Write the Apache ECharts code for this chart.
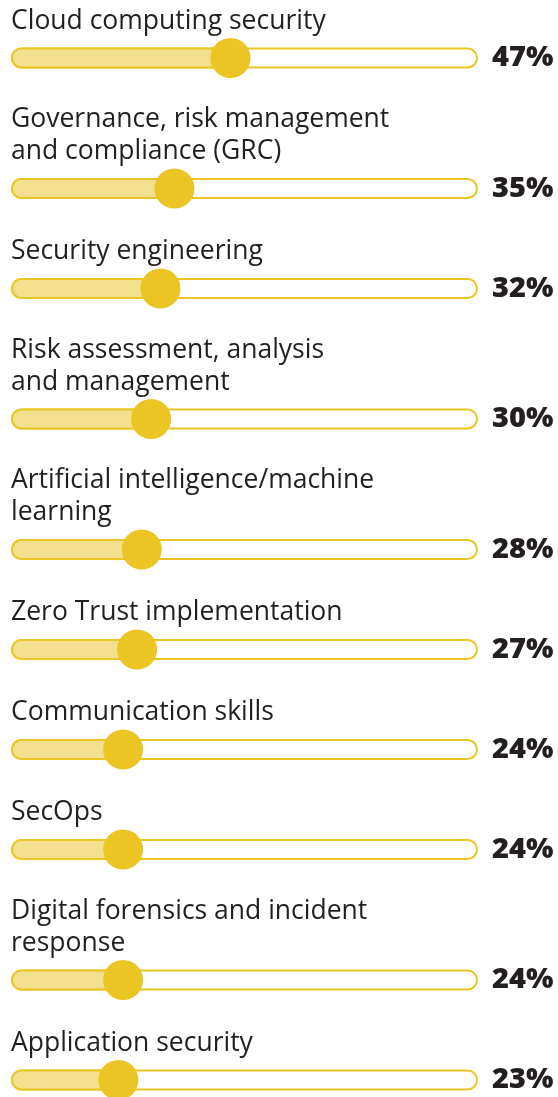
<!DOCTYPE html>
<html>
<head>
<meta charset="utf-8">
<script src="https://cdn.jsdelivr.net/npm/echarts@6/dist/echarts.min.js"></script>
<style>
  html, body { margin: 0; padding: 0; background: #fff; }
  #main { width: 558px; height: 1097px; }
</style>
</head>
<body>
<div id="main"></div>
<script>
// skill labels, line breaks as printed
const skills = [
  'Cloud computing security',
  'Governance, risk management\nand compliance (GRC)',
  'Security engineering',
  'Risk assessment, analysis\nand management',
  'Artificial intelligence/machine\nlearning',
  'Zero Trust implementation',
  'Communication skills',
  'SecOps',
  'Digital forensics and incident\nresponse',
  'Application security'
];
// share of respondents, %
const shares = [47, 35, 32, 30, 28, 27, 24, 24, 24, 23];
const trackMax = 100;

const gold = '#ebc523';
const paleGold = '#f3e08e';

const chart = echarts.init(document.getElementById('main'));

const grids = [], xAxes = [], yAxes = [], titles = [], series = [];
let center = 58;
skills.forEach((name, i) => {
  const lines = name.split('\n').length;
  if (i > 0) center += 100 + 30.5 * (lines - 1);

  titles.push({
    text: name,
    left: 11,
    top: center - 53 - (lines - 1) * 32,
    padding: 0,
    textStyle: {
      fontFamily: '"Open Sans", sans-serif',
      fontSize: 26.5,
      fontWeight: 'normal',
      lineHeight: 32,
      color: '#231f20'
    }
  });
  grids.push({ left: 11, width: 467, top: center - 11, height: 22 });
  xAxes.push({ type: 'value', gridIndex: i, min: 0, max: trackMax, show: false });
  yAxes.push({ type: 'category', gridIndex: i, data: [name], show: false });

  // empty track + percentage on its right
  series.push({
    type: 'bar',
    xAxisIndex: i, yAxisIndex: i,
    data: [trackMax],
    barWidth: 21,
    barGap: '-100%',
    silent: true,
    itemStyle: { color: '#fff', borderColor: gold, borderWidth: 2, borderRadius: 11 },
    label: {
      show: true,
      position: 'right',
      distance: 14,
      formatter: () => shares[i] + '%',
      fontFamily: '"Open Sans", sans-serif',
      fontWeight: 800,
      fontSize: 29,
      color: '#231f20'
    }
  });
  // filled part
  series.push({
    type: 'bar',
    xAxisIndex: i, yAxisIndex: i,
    data: [shares[i]],
    barWidth: 21,
    barGap: '-100%',
    silent: true,
    itemStyle: { color: paleGold, borderColor: gold, borderWidth: 2, borderRadius: 11 }
  });
  // knob
  series.push({
    type: 'scatter',
    xAxisIndex: i, yAxisIndex: i,
    data: [[shares[i], 0]],
    symbolSize: 40,
    clip: false,
    silent: true,
    itemStyle: { color: gold, opacity: 1 }
  });
});

chart.setOption({
  animation: false,
  title: titles,
  grid: grids,
  xAxis: xAxes,
  yAxis: yAxes,
  series: series
});
</script>
</body>
</html>
